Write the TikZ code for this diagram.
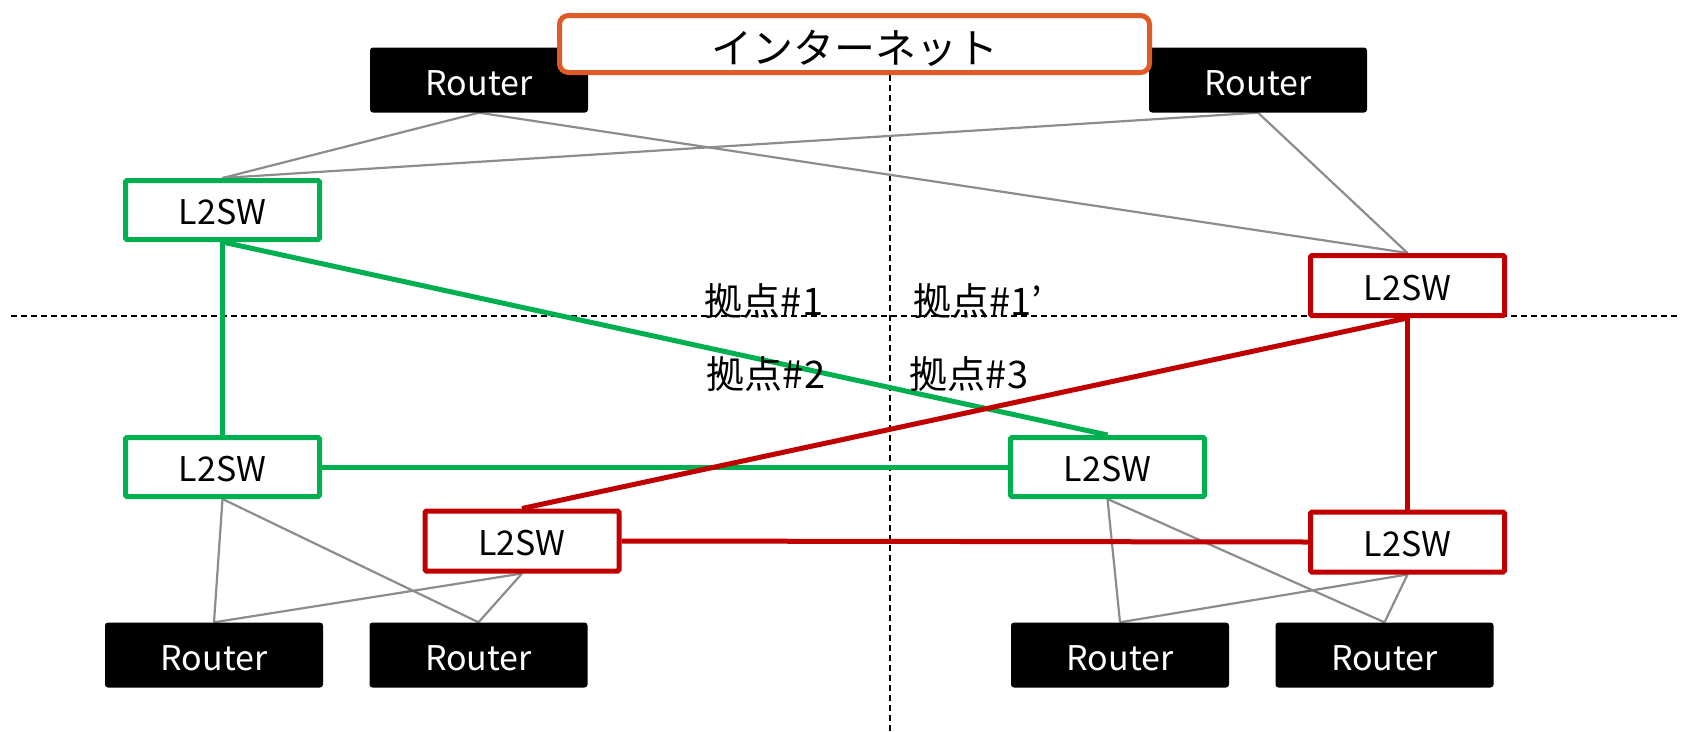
\documentclass[tikz,border=0pt]{standalone}
\usepackage{fontspec}
\setmainfont{Noto Sans CJK JP}
\usetikzlibrary{backgrounds}
\definecolor{swgreen}{RGB}{0,176,80}
\definecolor{swred}{RGB}{192,0,0}
\definecolor{netorange}{RGB}{222,90,38}
\definecolor{linkgray}{RGB}{140,140,140}
\tikzset{
  greenbox/.style={draw=swgreen, line width=5pt, fill=white, minimum width=194pt, minimum height=59pt, inner sep=0pt, rounded corners=1.5pt, text height=29pt, text depth=0pt, font=\fontsize{34}{34}\selectfont},
  redbox/.style={draw=swred, line width=5pt, fill=white, minimum width=194pt, minimum height=60pt, inner sep=0pt, rounded corners=1.5pt, text height=29pt, text depth=0pt, font=\fontsize{34}{34}\selectfont},
  routerbox/.style={fill=black, text=white, minimum width=218pt, minimum height=65pt, inner sep=0pt, rounded corners=3pt, text height=31pt, text depth=0pt, font=\fontsize{34}{34}\selectfont},
  netbox/.style={draw=netorange, line width=5pt, fill=white, minimum width=590pt, minimum height=57pt, inner sep=0pt, rounded corners=9pt, text height=38pt, text depth=0pt, font=\fontsize{41}{41}\selectfont},
  sitelabel/.style={inner sep=0pt, font=\fontsize{38}{38}\selectfont},
  graylink/.style={draw=linkgray, line width=2.2pt},
  greenlink/.style={draw=swgreen, line width=5pt},
  redlink/.style={draw=swred, line width=5pt},
  divider/.style={draw=black, line width=1.6pt, dash pattern=on 6pt off 4pt}
}
\begin{document}
\begin{tikzpicture}[x=1pt, y=-1pt]
\useasboundingbox (0,0) rectangle (1681,731);
% nodes
\node[routerbox] (rTL) at (479,80) {Router};
\node[routerbox] (rTR) at (1258,80) {Router};
\node[netbox] (net) at (854.5,44) {インターネット};
\node[greenbox] (swTL) at (222.5,210) {L2SW};
\node[redbox] (swR) at (1407.5,285.5) {L2SW};
\node[greenbox] (swML) at (222.5,467) {L2SW};
\node[greenbox] (swMR) at (1107.5,467) {L2SW};
\node[redbox] (swLL) at (522,541) {L2SW};
\node[redbox] (swLR) at (1407.5,542) {L2SW};
\node[routerbox] (rB1) at (214,655) {Router};
\node[routerbox] (rB2) at (478.5,655) {Router};
\node[routerbox] (rB3) at (1120,655) {Router};
\node[routerbox] (rB4) at (1384.5,655) {Router};
\node[sitelabel] (s1) at (764,301) {拠点\#1};
\node[sitelabel] (s1p) at (978,301) {拠点\#1’};
\node[sitelabel] (s2) at (766,374) {拠点\#2};
\node[sitelabel] (s3) at (969,374) {拠点\#3};
\coordinate (hL) at (11,316);
\coordinate (hR) at (1681,316);
\coordinate (vT) at (890,75);
\coordinate (vB) at (890,731);
\begin{scope}[on background layer]
\draw[divider] (hL) -- (hR);
\draw[divider] (vT) -- (vB);
% gray links
\draw[graylink] (rTL.south) -- (swTL.north);
\draw[graylink] (rTL.south) -- (swR.north);
\draw[graylink] (rTR.south) -- (swTL.north);
\draw[graylink] (rTR.south) -- (swR.north);
\draw[graylink] (swML.south) -- (rB1.north);
\draw[graylink] (swML.south) -- (rB2.north);
\draw[graylink] (swLL.south) -- (rB1.north);
\draw[graylink] (swLL.south) -- (rB2.north);
\draw[graylink] (swMR.south) -- (rB3.north);
\draw[graylink] (swMR.south) -- (rB4.north);
\draw[graylink] (swLR.south) -- (rB3.north);
\draw[graylink] (swLR.south) -- (rB4.north);
% green links
\draw[greenlink] (swTL.south) -- (swML.north);
\draw[greenlink] (swTL.south) -- (swMR.north);
\draw[greenlink] (swML.east) -- (swMR.west);
% red links
\draw[redlink] (swR.south) -- (swLL.north);
\draw[redlink] (swR.south) -- (swLR.north);
\draw[redlink] (swLL.east) -- (swLR.west);
\end{scope}
\end{tikzpicture}
\end{document}
